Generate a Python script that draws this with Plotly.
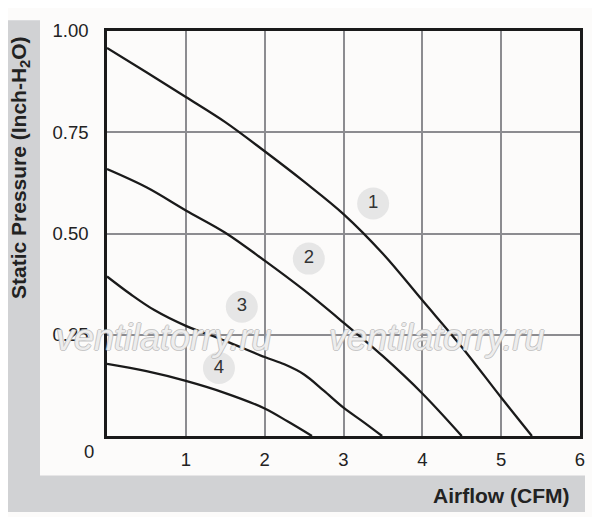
import plotly.graph_objects as go

# fan curves
flow_1 = [0, 0.5, 1, 1.5, 2, 2.5, 3, 3.5, 4, 4.5, 5, 5.39]
pres_1 = [0.958, 0.898, 0.837, 0.775, 0.703, 0.628, 0.548, 0.45, 0.335, 0.22, 0.095, 0]

flow_2 = [0, 0.5, 1, 1.5, 2, 2.5, 3, 3.5, 4, 4.5]
pres_2 = [0.659, 0.614, 0.557, 0.502, 0.433, 0.36, 0.28, 0.197, 0.105, 0]

flow_3 = [0, 0.3, 0.6, 1, 1.5, 2, 2.25, 2.5, 2.75, 3, 3.25, 3.49]
pres_3 = [0.394, 0.35, 0.311, 0.272, 0.235, 0.195, 0.177, 0.152, 0.112, 0.07, 0.035, 0]

flow_4 = [0, 0.5, 1, 1.5, 2, 2.3, 2.6]
pres_4 = [0.178, 0.16, 0.136, 0.106, 0.068, 0.035, 0]

curve_names = ["1", "2", "3", "4"]
label_x = [3.376, 2.56, 1.71, 1.42]
label_y = [0.574, 0.438, 0.319, 0.168]

x_ticks = [1, 2, 3, 4, 5, 6]
y_ticks = [0.25, 0.5, 0.75, 1.0]
y_ticktext = ["0.25", "0.50", "0.75", "1.00"]

watermark = "ventilatorry.ru"

FONT = "Liberation Sans, Arial, sans-serif"
GRAY = "#d1d2d4"
BG = "#fcfbfa"

fig = go.Figure()

for fx, py in [(flow_1, pres_1), (flow_2, pres_2), (flow_3, pres_3), (flow_4, pres_4)]:
    fig.add_trace(go.Scatter(x=fx, y=py, mode="lines", line_shape="spline",
                             line=dict(color="#1a1a1a", width=2.3),
                             hoverinfo="skip", showlegend=False))

fig.add_trace(go.Scatter(x=label_x, y=label_y, mode="markers+text",
                         text=curve_names, textposition="middle center",
                         marker=dict(size=32, color="#e6e6e6"),
                         textfont=dict(family=FONT, size=18.5, color="#333333"),
                         showlegend=False, hoverinfo="skip"))

# gray L-shaped band behind the axis titles (paper coords, plot box = 473x411 px)
fig.add_shape(type="rect", xref="paper", yref="paper",
              x0=(3 - 107) / 473, x1=(40 - 107) / 473,
              y0=(436 - 513) / 411, y1=(436 - 14) / 411,
              fillcolor=GRAY, line_width=0, layer="below")
fig.add_shape(type="rect", xref="paper", yref="paper",
              x0=(3 - 107) / 473, x1=(585 - 107) / 473,
              y0=(436 - 513) / 411, y1=(436 - 476) / 411,
              fillcolor=GRAY, line_width=0, layer="below")

# watermark text, outlined
for cx in [(163 - 107) / 473, (436 - 107) / 473]:
    fig.add_annotation(x=cx, y=(436 - 336) / 411, xref="paper", yref="paper",
                       xanchor="center", yanchor="middle",
                       text=watermark, showarrow=False,
                       font=dict(family=FONT, size=36, color="rgba(255,255,255,0.75)",
                                 style="italic",
                                 shadow="1px 0 0 #b8b8b8, -1px 0 0 #b8b8b8, 0 1px 0 #b8b8b8, 0 -1px 0 #b8b8b8"))

fig.add_annotation(x=0, y=0, xref="x", yref="y", text="0", showarrow=False,
                   xanchor="center", yanchor="middle", xshift=-18, yshift=-15,
                   font=dict(family=FONT, size=18.5, color="#222"))

fig.add_annotation(x=(20 - 107) / 473, y=(436 - 164) / 411, xref="paper", yref="paper",
                   xanchor="center", yanchor="middle", borderpad=0,
                   text="<b>Static Pressure (Inch-H<sub>2</sub>O)</b>", textangle=-90,
                   showarrow=False, font=dict(family=FONT, size=21, color="#222"))
fig.add_annotation(x=(571 - 107) / 473, y=(436 - 496) / 411, xref="paper", yref="paper",
                   text="<b>Airflow (CFM)</b>", xanchor="right", yanchor="middle",
                   showarrow=False, font=dict(family=FONT, size=21, color="#222"))

fig.update_xaxes(range=[0, 6], tickvals=x_ticks, showgrid=True, gridcolor="#8c8c90",
                 gridwidth=1.5, showline=True, mirror=True, linecolor="#1a1a1a",
                 linewidth=2.5, zeroline=False, ticks="", fixedrange=True,
                 tickfont=dict(family=FONT, size=18.5, color="#222"), ticklabelstandoff=5)
fig.update_yaxes(range=[0, 1], tickvals=y_ticks, ticktext=y_ticktext, showgrid=True,
                 gridcolor="#8c8c90", gridwidth=1.5, showline=True, mirror=True,
                 linecolor="#1a1a1a", linewidth=2.5, zeroline=False, ticks="",
                 tickfont=dict(family=FONT, size=18.5, color="#222"), ticklabelstandoff=12)

# page body adds 8 px, so margins are shifted by that amount
fig.update_layout(width=600, height=517, margin=dict(l=99, r=28, t=17, b=89),
                  paper_bgcolor=BG, plot_bgcolor=BG, showlegend=False)

fig.write_html("out.html")
